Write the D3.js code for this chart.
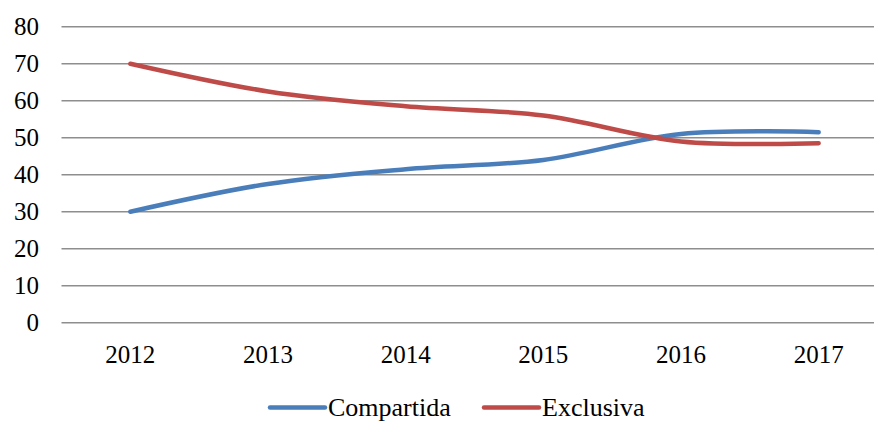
<!DOCTYPE html>
<html>
<head>
<meta charset="utf-8">
<script src="https://cdn.jsdelivr.net/npm/d3@7"></script>
<style>
  body { margin: 0; background: #fff; }
  text { font-family: "Liberation Serif", "Times New Roman", serif; fill: #000; }
</style>
</head>
<body>
<script>
'use strict';

// chart values
const years = ["2012", "2013", "2014", "2015", "2016", "2017"];
const compartida = [30, 37.5, 41.5, 44, 51, 51.5];
const exclusiva = [70, 62.5, 58.5, 56, 49, 48.5];
const yTicks = [0, 10, 20, 30, 40, 50, 60, 70, 80];
const seriesNames = ["Compartida", "Exclusiva"];
const seriesColors = ["#4A7EBB", "#BE4B48"];

const width = 874, height = 422;

const svg = d3.select("body").append("svg")
  .attr("width", width)
  .attr("height", height);

// category axis, points in the middle of each band
const xScale = d3.scalePoint()
  .domain(years)
  .range([61.5, 887.5])
  .padding(0.5);

const yScale = d3.scaleLinear()
  .domain([0, 80])
  .range([322.7, 26.7]);

// horizontal gridlines
svg.append("g")
  .selectAll("line")
  .data(yTicks)
  .enter()
  .append("line")
  .attr("x1", 61.5)
  .attr("x2", 887.5)
  .attr("y1", d => yScale(d))
  .attr("y2", d => yScale(d))
  .attr("stroke", "#8e8e8e")
  .attr("stroke-width", 1.6);

// y tick labels
svg.append("g")
  .selectAll("text")
  .data(yTicks)
  .enter()
  .append("text")
  .attr("x", 39)
  .attr("y", d => yScale(d))
  .attr("dy", "0.34em")
  .attr("text-anchor", "end")
  .style("font-size", "25px")
  .text(d => d);

// x tick labels
svg.append("g")
  .selectAll("text")
  .data(years)
  .enter()
  .append("text")
  .attr("x", d => xScale(d))
  .attr("y", 363)
  .attr("text-anchor", "middle")
  .style("font-size", "25px")
  .text(d => d);

// smoothed lines like the spreadsheet chart
const line = d3.line()
  .x((d, i) => xScale(years[i]))
  .y(d => yScale(d))
  .curve(d3.curveCardinal.tension(0));

[compartida, exclusiva].forEach((values, k) => {
  svg.append("path")
    .datum(values)
    .attr("d", line)
    .attr("fill", "none")
    .attr("stroke", seriesColors[k])
    .attr("stroke-width", 4.5)
    .attr("stroke-linecap", "round")
    .attr("stroke-linejoin", "round");
});

// legend
const legendX = [270, 484];
const legend = svg.append("g");
seriesNames.forEach((name, k) => {
  legend.append("line")
    .attr("x1", legendX[k])
    .attr("x2", legendX[k] + 55)
    .attr("y1", 407.5)
    .attr("y2", 407.5)
    .attr("stroke", seriesColors[k])
    .attr("stroke-width", 4.5)
    .attr("stroke-linecap", "round");
  legend.append("text")
    .attr("x", legendX[k] + 58)
    .attr("y", 416)
    .style("font-size", "26px")
    .text(name);
});
</script>
</body>
</html>
